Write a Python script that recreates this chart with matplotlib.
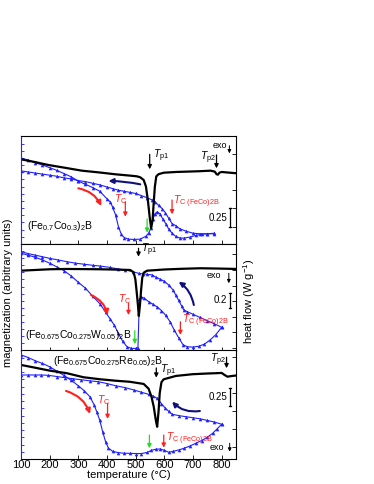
import numpy as np
import matplotlib.pyplot as plt
from matplotlib.ticker import MultipleLocator

plt.rcParams['font.family'] = ['Liberation Sans', 'DejaVu Sans']
plt.rcParams['mathtext.fontset'] = 'custom'
plt.rcParams['mathtext.rm'] = 'Liberation Sans'
plt.rcParams['mathtext.it'] = 'Liberation Sans:italic'
plt.rcParams['xtick.direction'] = 'in'
plt.rcParams['ytick.direction'] = 'in'
plt.rcParams['font.size'] = 8

BLUE = '#1f1fff'
RED = '#ff2020'
GREEN = '#22dd22'
NAVY = '#10107a'

# ---------------- data (temperature in degC) ----------------
# (Fe0.7Co0.3)2B
T1_heat = [100, 125, 150, 175, 200, 225, 250, 275, 300, 325, 350, 375, 400, 412, 420, 430, 440, 450, 460, 475,
           495, 515, 535, 545, 553, 560, 567, 575, 585, 595, 605, 615, 627, 640, 655, 670, 690, 710, 730, 750, 775]
M1_heat = [.80, .78, .755, .735, .71, .685, .655, .625, .585, .555, .525, .49, .42, .39, .34, .27, .16, .09, .06, .045,
           .042, .045, .07, .10, .15, .23, .28, .30, .28, .23, .19, .14, .10, .07, .055, .055, .065, .08, .09, .095, .10]
T1_cool = [775, 750, 725, 700, 675, 655, 640, 627, 615, 604, 592, 580, 568, 557, 540, 520, 500, 480, 460, 440,
           420, 400, 375, 350, 325, 300, 275, 250, 225, 200, 175, 150, 125, 100]
M1_cool = [.095, .095, .095, .10, .12, .14, .17, .19, .24, .29, .33, .36, .39, .41, .43, .45, .47, .48, .49, .50,
           .515, .53, .55, .565, .58, .59, .605, .615, .63, .64, .65, .66, .67, .68]
T1_dsc = [100, 150, 195, 250, 312, 370, 430, 481, 505, 516, 528, 536, 543, 549, 554, 559, 563, 567, 572, 580,
          598, 640, 680, 720, 761, 776, 782, 787, 792, 800, 852]
H1_dsc = [.174, .135, .096, .06, .018, -.005, -.032, -.05, -.06, -.073, -.11, -.2, -.4, -.62, -.77, -.66, -.42, -.2,
          -.06, -.03, -.01, 0, .005, .01, .018, .005, -.03, -.037, -.01, 0, -.018]

# (Fe0.675Co0.275W0.05)2B
T2_heat = [100, 125, 150, 175, 200, 225, 250, 275, 300, 325, 350, 375, 395, 410, 425, 440, 455, 470, 485, 500,
           508, 513, 520, 530, 545, 560, 575, 590, 605, 620, 635, 650, 665, 680, 700, 720, 740, 760, 780, 800]
M2_heat = [.913, .895, .875, .85, .82, .785, .75, .70, .64, .585, .51, .44, .36, .30, .24, .16, .085, .035, .02, .02,
           .025, .48, .505, .49, .46, .435, .41, .375, .33, .27, .19, .12, .055, .035, .032, .04, .06, .10, .15, .218]
T2_cool = [800, 775, 750, 725, 700, 680, 668, 660, 650, 640, 630, 615, 600, 585, 570, 557, 540, 525, 510, 490,
           464, 440, 410, 376, 350, 320, 290, 260, 230, 200, 175, 150, 125, 100]
M2_cool = [.218, .25, .28, .31, .34, .365, .38, .42, .47, .52, .57, .615, .65, .67, .69, .71, .715, .72, .725, .74,
           .756, .765, .78, .793, .80, .81, .82, .834, .85, .865, .88, .895, .91, .928]
T2_dsc = [100, 150, 200, 260, 320, 376, 430, 481, 493, 499, 503, 508, 511, 515, 519, 523, 528, 540, 600, 660,
          727, 790, 852]
H2_dsc = [-.009, 0, .009, .013, .011, .009, .005, 0, -.03, -.12, -.26, -.45, -.59, -.45, -.256, -.10, -.035, -.009,
          .006, .015, .022, .018, .013]

# (Fe0.675Co0.275Re0.05)2B
T3_heat = [100, 125, 150, 175, 200, 225, 250, 275, 300, 320, 340, 355, 365, 375, 385, 395, 405, 420, 440, 460,
           480, 500, 520, 540, 555, 570, 585, 600, 615, 630, 650, 670, 690, 710, 730, 750, 770, 785, 800]
M3_heat = [.959, .935, .905, .88, .85, .81, .77, .725, .675, .63, .575, .50, .43, .355, .25, .16, .10, .07, .058, .053,
           .052, .05, .05, .06, .08, .09, .092, .08, .062, .07, .083, .10, .12, .145, .17, .20, .24, .28, .32]
T3_cool = [800, 775, 750, 725, 700, 674, 650, 627, 615, 604, 590, 575, 560, 545, 520, 495, 464, 430, 400, 370,
           340, 310, 280, 254, 225, 195, 170, 150, 125, 100]
M3_cool = [.32, .34, .355, .37, .38, .39, .40, .412, .44, .467, .51, .559, .58, .596, .615, .635, .657, .675, .695, .712,
           .72, .73, .74, .749, .76, .771, .774, .774, .774, .774]
T3_dsc = [100, 150, 200, 260, 318, 376, 430, 480, 528, 545, 555, 563, 570, 575, 580, 584, 590, 598, 640, 698,
          750, 779, 800, 810, 820, 835, 852]
H3_dsc = [.139, .10, .06, .024, -.032, -.06, -.08, -.095, -.125, -.19, -.3, -.44, -.62, -.72, -.5, -.25, -.1, -.06,
          -.014, .01, .02, .024, .028, 0, -.024, -.015, -.007]

xticks = [100, 200, 300, 400, 500, 600, 700, 800]

fig = plt.figure(figsize=(3.74, 4.84), dpi=100)


def panel(rect, Th, Mh, Tc, Mc, Td, Hd, hlim, hstep, bottom=False):
    ax = fig.add_axes(rect)
    ax.plot(Th, Mh, '-^', color=BLUE, lw=0.8, ms=2.6, mew=0)
    ax.plot(Tc, Mc, '-^', color=BLUE, lw=0.8, ms=2.6, mew=0)
    ax.set_xlim(100, 850)
    ax.set_ylim(0, 1)
    ax.set_xticks(xticks)
    ax.tick_params(axis='x', length=3, width=0.6, labelsize=8, pad=0.8, labelbottom=bottom)
    ax.yaxis.set_major_locator(MultipleLocator(1 / 15))
    ax.tick_params(axis='y', length=2, width=0.6, color=BLUE, labelleft=False)
    ax.spines['left'].set_color(BLUE)
    for s in ax.spines.values():
        s.set_linewidth(0.7)
    ax2 = ax.twinx()
    ax2.plot(Td, Hd, '-', color='k', lw=1.6)
    ax2.set_ylim(*hlim)
    ax2.yaxis.set_major_locator(MultipleLocator(hstep))
    ax2.tick_params(axis='y', length=3, width=0.6, labelright=False)
    ax2.spines['left'].set_color(BLUE)
    return ax, ax2


def arrow(ax, x, y0, y1, color, lw=0.9, ms=6):
    ax.annotate('', xy=(x, y1), xytext=(x, y0),
                arrowprops=dict(arrowstyle='-|>', color=color, lw=lw, mutation_scale=ms, shrinkA=0, shrinkB=0))


def curved(ax, p0, p1, color, rad):
    ax.annotate('', xy=p1, xytext=p0,
                arrowprops=dict(arrowstyle='-|>', color=color, lw=1.5, mutation_scale=7, shrinkA=0, shrinkB=0,
                                connectionstyle='arc3,rad=%s' % rad))


def scalebar(ax2, x, y0, y1, label):
    ax2.plot([x, x], [y0, y1], color='k', lw=0.9)
    ax2.plot([x - 5, x + 5], [y0, y0], color='k', lw=0.9)
    ax2.plot([x - 5, x + 5], [y1, y1], color='k', lw=0.9)
    ax2.text(x - 10, (y0 + y1) / 2, label, ha='right', va='center', fontsize=7)


TC = r'$T_\mathrm{C}$'
TCF = r'$T_\mathrm{C\ (FeCo)2B}$'

# ---------- panel 1 ----------
ax, ax2 = panel([0.0561, 0.4959, 0.5749, 0.2221], T1_heat, M1_heat, T1_cool, M1_cool, T1_dsc, H1_dsc,
                (-0.986, 0.486), 0.25)
ax.text(120, 0.17, r'(Fe$_{0.7}$Co$_{0.3}$)$_2$B', ha='left', va='center', fontsize=7.5)
curved(ax, (300, 0.518), (380, 0.353), RED, -0.25)
ax.text(426, 0.42, TC, color=RED, ha='left', va='center', fontsize=7.5)
arrow(ax, 464, 0.393, 0.254, RED)
arrow(ax, 540, 0.233, 0.105, GREEN)
ax.text(632, 0.39, TCF, color=RED, ha='left', va='center', fontsize=7.5)
arrow(ax, 627, 0.409, 0.276, RED)
curved(ax, (516, 0.555), (405, 0.586), NAVY, 0.05)
arrow(ax2, 549, 0.242, 0.037, 'k')
ax2.text(560, 0.22, r'$T_\mathrm{p1}$', ha='left', va='center', fontsize=7.5)
ax2.text(726, 0.195, r'$T_\mathrm{p2}$', ha='left', va='center', fontsize=7.5)
arrow(ax2, 782, 0.233, 0.05, 'k')
ax2.text(795, 0.36, 'exo', ha='center', va='center', fontsize=6.5)
arrow(ax2, 827, 0.36, 0.255, 'k', lw=0.7, ms=5)
scalebar(ax2, 829, -0.75, -0.5, '0.25')

# ---------- panel 2 ----------
ax, ax2 = panel([0.0561, 0.2758, 0.5749, 0.2201], T2_heat, M2_heat, T2_cool, M2_cool, T2_dsc, H2_dsc,
                (-1.032, 0.333), 0.2)
ax.text(114, 0.146, r'(Fe$_{0.675}$Co$_{0.275}$W$_{0.05}$)$_2$B', ha='left', va='center', fontsize=7.5)
curved(ax, (344, 0.521), (402, 0.333), RED, -0.25)
ax.text(437, 0.48, TC, color=RED, ha='left', va='center', fontsize=7.5)
arrow(ax, 475, 0.443, 0.333, RED)
arrow(ax, 497, 0.186, 0.061, GREEN)
ax.text(662, 0.28, TCF, color=RED, ha='left', va='center', fontsize=7.5)
arrow(ax, 656, 0.270, 0.146, RED)
curved(ax, (703, 0.427), (650, 0.646), NAVY, 0.2)
arrow(ax2, 510, 0.278, 0.17, 'k')
ax2.text(520, 0.256, r'$T_\mathrm{p1}$', ha='left', va='center', fontsize=7.5)
ax2.text(773, -0.077, 'exo', ha='center', va='center', fontsize=6.5)
arrow(ax2, 825, -0.042, -0.17, 'k', lw=0.7, ms=5)
scalebar(ax2, 829, -0.49, -0.29, '0.2')

# ---------- panel 3 ----------
ax, ax2 = panel([0.0561, 0.0517, 0.5749, 0.2242], T3_heat, M3_heat, T3_cool, M3_cool, T3_dsc, H3_dsc,
                (-1.167, 0.340), 0.25, bottom=True)
ax.text(213, 0.906, r'(Fe$_{0.675}$Co$_{0.275}$Re$_{0.05}$)$_2$B', ha='left', va='center', fontsize=7.5)
curved(ax, (257, 0.627), (341, 0.415), RED, -0.25)
ax.text(366, 0.545, TC, color=RED, ha='left', va='center', fontsize=7.5)
arrow(ax, 402, 0.513, 0.369, RED)
arrow(ax, 548, 0.221, 0.099, GREEN)
arrow(ax, 598, 0.221, 0.104, RED)
ax.text(607, 0.19, TCF, color=RED, ha='left', va='center', fontsize=7.5)
curved(ax, (724, 0.442), (627, 0.528), NAVY, -0.25)
arrow(ax2, 572, 0.097, -0.038, 'k')
ax2.text(584, 0.06, r'$T_\mathrm{p1}$', ha='left', va='center', fontsize=7.5)
ax2.text(761, 0.208, r'$T_\mathrm{p2}$', ha='left', va='center', fontsize=7.5)
arrow(ax2, 817, 0.246, 0.093, 'k')
ax2.text(785, -1.004, 'exo', ha='center', va='center', fontsize=6.5)
arrow(ax2, 828, -0.949, -1.065, 'k', lw=0.7, ms=5)
scalebar(ax2, 829, -0.425, -0.175, '0.25')

fig.text(0.3436, 0.008, 'temperature (\u00b0C)', ha='center', va='bottom', fontsize=8)
fig.text(0.021, 0.395, 'magnetization (arbitrary units)', rotation=90, ha='center', va='center', fontsize=8)
fig.text(0.666, 0.378, 'heat flow (W g$^{-1}$)', rotation=90, ha='center', va='center', fontsize=8)

fig.savefig('out.png', dpi=100)
